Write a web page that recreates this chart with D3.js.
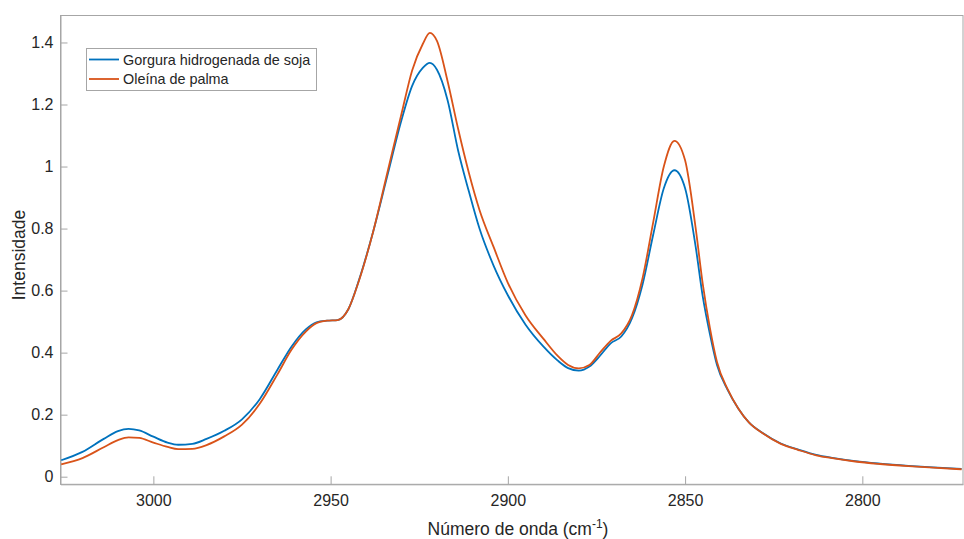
<!doctype html>
<html>
  <head>
    <meta charset="utf-8">
    <title>Espectro FTIR</title>
    <style>
      * { margin: 0; padding: 0; }
      body { background: #fff; font-family: "Liberation Sans", Arial, Helvetica, sans-serif; }
      svg text { fill: #262626; }
    </style>
    <script src="https://d3js.org/d3.v7.min.js"></script>
  </head>
  <body>
    <div id="chart"></div>
    <script>
    // numero de onda (cm-1), de izquierda a derecha
    const ondas = [3026, 3020, 3014, 3010, 3007, 3004, 3000, 2996, 2993, 2989, 2985, 2980, 2975, 2970,
      2965, 2961, 2957, 2954, 2951, 2948, 2945, 2942, 2938, 2934, 2930, 2927, 2924, 2922, 2920, 2917,
      2914, 2911, 2908, 2904, 2900, 2895, 2890, 2886, 2883, 2880, 2877, 2874, 2871, 2868, 2865, 2862,
      2859, 2856, 2853, 2850, 2847, 2845, 2843, 2841, 2838, 2835, 2832, 2828, 2823, 2818, 2813, 2808,
      2802, 2795, 2787, 2780, 2772];

    const gorgura = [0.053, 0.080, 0.122, 0.147, 0.154, 0.149, 0.129, 0.110, 0.103, 0.106, 0.122, 0.148, 0.185, 0.250,
      0.345, 0.420, 0.475, 0.498, 0.503, 0.505, 0.540, 0.634, 0.790, 0.970, 1.150, 1.260, 1.318, 1.334, 1.312, 1.214,
      1.050, 0.920, 0.800, 0.680, 0.585, 0.490, 0.420, 0.375, 0.350, 0.342, 0.355, 0.390, 0.430, 0.452, 0.510, 0.620,
      0.780, 0.930, 0.988, 0.930, 0.740, 0.580, 0.460, 0.360, 0.280, 0.220, 0.175, 0.140, 0.107, 0.087, 0.070, 0.060,
      0.050, 0.042, 0.035, 0.030, 0.025];

    const oleina = [0.040, 0.060, 0.095, 0.118, 0.127, 0.125, 0.110, 0.096, 0.089, 0.090, 0.102, 0.130, 0.168, 0.235,
      0.330, 0.410, 0.468, 0.495, 0.503, 0.505, 0.540, 0.632, 0.790, 0.980, 1.170, 1.310, 1.395, 1.431, 1.405, 1.275,
      1.120, 0.980, 0.860, 0.740, 0.625, 0.520, 0.445, 0.390, 0.360, 0.349, 0.360, 0.400, 0.438, 0.462, 0.520, 0.640,
      0.820, 1.000, 1.083, 1.020, 0.800, 0.620, 0.480, 0.370, 0.282, 0.220, 0.175, 0.139, 0.106, 0.086, 0.069, 0.059,
      0.049, 0.041, 0.034, 0.029, 0.024];

    const xTicks = [3000, 2950, 2900, 2850, 2800];
    const yTicks = [0, 0.2, 0.4, 0.6, 0.8, 1, 1.2, 1.4];
    const nombres = ["Gorgura hidrogenada de soja", "Oleína de palma"];
    const colores = ["#0072BD", "#D95319"];

    const W = 964, H = 539;
    const svg = d3.select("#chart").append("svg").attr("width", W).attr("height", H);

    const mIzq = 60.5, mDer = 963, mSup = 15.5, mInf = 484.3;
    const x = d3.scaleLinear().domain([3026.2, 2771.6]).range([mIzq, mDer]);
    const y = d3.scaleLinear().domain([-0.0245, 1.487]).range([mInf, mSup]);

    // marco
    svg.append("rect")
      .attr("x", mIzq).attr("y", mSup)
      .attr("width", mDer - mIzq).attr("height", mInf - mSup)
      .attr("fill", "none").attr("stroke", "#a6a6a6").attr("stroke-width", 1);

    // ejes con ticks hacia adentro
    const ax = svg.append("g").attr("transform", "translate(0," + mInf + ")")
      .call(d3.axisBottom(x).tickValues(xTicks).tickSizeInner(-8).tickSizeOuter(0).tickPadding(10)
        .tickFormat(d3.format("d")));
    const ay = svg.append("g").attr("transform", "translate(" + mIzq + ",0)")
      .call(d3.axisLeft(y).tickValues(yTicks).tickSizeInner(-7).tickSizeOuter(0).tickPadding(7)
        .tickFormat(d3.format("~g")));
    [ax, ay].forEach(function (g) {
      g.select(".domain").attr("stroke", "#a6a6a6");
      g.selectAll(".tick line").attr("stroke", "#a6a6a6");
      g.selectAll(".tick text").style("font-size", "16px").style("font-family", "Liberation Sans, Arial").attr("fill", "#262626");
    });

    // lineas
    svg.append("clipPath").attr("id", "clip").append("rect")
      .attr("x", mIzq).attr("y", mSup).attr("width", mDer - mIzq).attr("height", mInf - mSup);

    const linea = d3.line()
      .x(function (d) { return x(d[0]); })
      .y(function (d) { return y(d[1]); })
      .curve(d3.curveMonotoneX);

    [gorgura, oleina].forEach(function (serie, i) {
      svg.append("path")
        .datum(ondas.map(function (w, j) { return [w, serie[j]]; }))
        .attr("clip-path", "url(#clip)")
        .attr("fill", "none")
        .attr("stroke", colores[i])
        .attr("stroke-width", 1.8)
        .attr("d", linea);
    });

    // titulos de ejes
    const tx = svg.append("text")
      .attr("x", 518).attr("y", 535)
      .attr("text-anchor", "middle")
      .style("font-size", "17.5px");
    tx.append("tspan").text("Número de onda (cm");
    tx.append("tspan").attr("dy", -7).style("font-size", "12px").text("-1");
    tx.append("tspan").attr("dy", 7).text(")");

    svg.append("text")
      .attr("transform", "translate(25,255) rotate(-90)")
      .attr("text-anchor", "middle")
      .style("font-size", "17.5px")
      .text("Intensidade");

    // leyenda
    const leg = svg.append("g");
    leg.append("rect")
      .attr("x", 86.5).attr("y", 48.5).attr("width", 230).attr("height", 42)
      .attr("fill", "#fff").attr("stroke", "#a6a6a6");
    nombres.forEach(function (n, i) {
      const ly = 59.5 + i * 19.5;
      leg.append("line")
        .attr("x1", 89).attr("x2", 119).attr("y1", ly).attr("y2", ly)
        .attr("stroke", colores[i]).attr("stroke-width", 1.8);
      leg.append("text")
        .attr("x", 123).attr("y", ly + 5)
        .style("font-size", "14.4px")
        .text(n);
    });
    </script>
  </body>
</html>
